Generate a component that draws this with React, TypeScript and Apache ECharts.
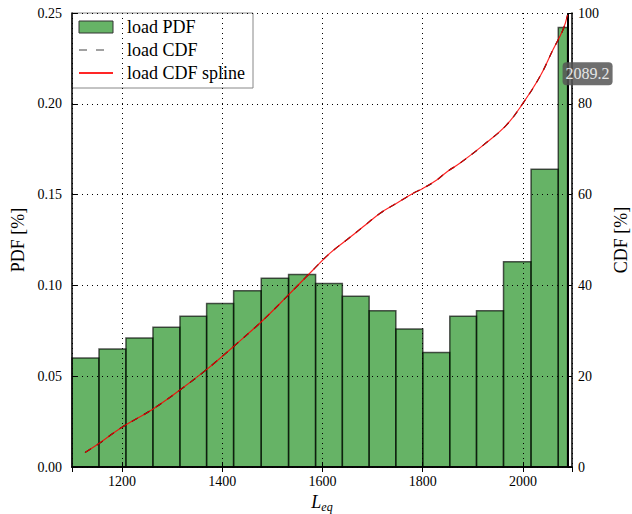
import React, { useEffect, useRef } from "react";
import * as echarts from "echarts";

const binEdges = [1100, 1153.9, 1207.7, 1261.6, 1315.5, 1368.7, 1422.6, 1477.7, 1532.3, 1586.2, 1639.6, 1693.1, 1746.4, 1800.2, 1854.1, 1907.4, 1961.3, 2016.3, 2070.6, 2089.2];
const pdfValues = [0.060, 0.065, 0.071, 0.077, 0.083, 0.090, 0.097, 0.104, 0.106, 0.101, 0.094, 0.086, 0.076, 0.063, 0.083, 0.086, 0.113, 0.164, 0.242];
const cdfX = [1126, 1153, 1199, 1262, 1316, 1369, 1399, 1422, 1478, 1532, 1581, 1615, 1648, 1681, 1715, 1748, 1781, 1801, 1828, 1848, 1874, 1921, 1967, 2000, 2034, 2060, 2080, 2089.2];
const cdfY = [3.2, 5.1, 8.7, 12.8, 17.0, 21.5, 24.3, 26.5, 32.0, 37.9, 43.4, 47.1, 50.0, 52.9, 55.9, 58.1, 60.3, 61.4, 63.2, 65.0, 66.9, 70.9, 75.3, 80.1, 86.0, 91.9, 96.3, 99.6];
const markerValue = 2089.2;
const markerCdf = 86.6;
const xMin = 1100;
const xMax = 2098;

const FONT = "Liberation Serif";

export default function App() {
  const ref = useRef<HTMLDivElement>(null);
  useEffect(() => {
    if (!ref.current) return;
    const chart = echarts.init(ref.current, null, { renderer: "svg" });
    const bins = pdfValues.map((v, i) => [binEdges[i], binEdges[i + 1], v]);
    const cdfData = cdfX.map((x, i) => [x, cdfY[i]]);
    const tickStyle = { show: true, inside: true, length: 5, lineStyle: { color: "#000" } };
    const option: any = {
      animation: false,
      backgroundColor: "#fff",
      textStyle: { fontFamily: FONT },
      grid: { left: 72, right: 60, top: 13, bottom: 47, containLabel: false, outerBoundsMode: "none" },
      legend: {
        left: 72,
        top: 13,
        orient: "vertical",
        padding: [5, 8, 6, 6],
        itemWidth: 34,
        itemHeight: 12,
        itemGap: 5,
        backgroundColor: "rgba(255,255,255,0.85)",
        borderColor: "#888",
        borderWidth: 1,
        borderRadius: 0,
        textStyle: { fontFamily: FONT, fontSize: 18, color: "#000", lineHeight: 18, padding: [0, 0, 0, 9] },
        data: [
          { name: "load PDF", icon: "rect", itemStyle: { color: "rgba(0,128,0,0.6)", borderColor: "#333", borderWidth: 1 } },
          { name: "load CDF", itemStyle: { opacity: 0 }, lineStyle: { color: "#444", type: [8, 9], width: 1.2 } },
          { name: "load CDF spline", itemStyle: { opacity: 0 } },
        ],
      },
      xAxis: [
        {
          type: "value",
          min: xMin,
          max: xMax,
          z: 5,
          name: "{a|L}{b|eq}",
          nameLocation: "middle",
          nameGap: 24,
          nameTextStyle: {
            rich: {
              a: { fontFamily: FONT, fontStyle: "italic", fontSize: 18, color: "#000", verticalAlign: "top", lineHeight: 20 },
              b: { fontFamily: FONT, fontStyle: "italic", fontSize: 12, color: "#000", verticalAlign: "bottom", lineHeight: 20, padding: [8, 0, 0, 0] },
            },
          },
          axisLine: { show: true, lineStyle: { color: "#000", width: 1.5 } },
          axisTick: tickStyle,
          axisLabel: { fontFamily: FONT, fontSize: 14, color: "#000", margin: 7, showMinLabel: false, showMaxLabel: false, formatter: (v: number) => String(v) },
          splitLine: { show: true, lineStyle: { color: "#000", type: [1, 4], width: 1 } },
        },
        {
          type: "value",
          position: "top",
          min: xMin,
          max: xMax,
          z: 5,
          axisLine: { show: true, lineStyle: { color: "#000", width: 1.5 } },
          axisTick: tickStyle,
          axisLabel: { show: false },
          splitLine: { show: false },
        },
      ],
      yAxis: [
        {
          type: "value",
          min: 0,
          max: 0.25,
          interval: 0.05,
          z: 5,
          name: "PDF [%]",
          nameLocation: "middle",
          nameGap: 42,
          nameTextStyle: { fontFamily: FONT, fontSize: 18, color: "#000" },
          axisLine: { show: true, lineStyle: { color: "#000", width: 1.5 } },
          axisTick: tickStyle,
          axisLabel: { fontFamily: FONT, fontSize: 14, color: "#000", margin: 10, formatter: (v: number) => v.toFixed(2) },
          splitLine: { show: true, lineStyle: { color: "#000", type: [1, 4], width: 1 } },
        },
        {
          type: "value",
          min: 0,
          max: 100,
          interval: 20,
          z: 5,
          position: "right",
          name: "CDF [%]",
          nameLocation: "middle",
          nameGap: 40,
          nameRotate: 90,
          nameTextStyle: { fontFamily: FONT, fontSize: 18, color: "#000" },
          axisLine: { show: true, lineStyle: { color: "#000", width: 1.5 } },
          axisTick: tickStyle,
          axisLabel: { fontFamily: FONT, fontSize: 14, color: "#000", margin: 6 },
          splitLine: { show: false },
        },
      ],
      series: [
        {
          name: "load PDF",
          type: "custom",
          xAxisIndex: 0,
          yAxisIndex: 0,
          z: 2,
          encode: { x: [0, 1], y: 2 },
          itemStyle: { color: "rgba(0,128,0,0.6)" },
          data: bins,
          renderItem: (params: any, api: any) => {
            const s = api.coord([api.value(0), api.value(2)]);
            const e = api.coord([api.value(1), 0]);
            return {
              type: "rect",
              shape: { x: s[0], y: s[1], width: e[0] - s[0], height: e[1] - s[1] },
              style: { fill: "rgba(0,128,0,0.6)", stroke: "rgba(0,0,0,0.65)", lineWidth: 1.5 },
            };
          },
        },
        {
          name: "load CDF",
          type: "line",
          xAxisIndex: 0,
          yAxisIndex: 1,
          z: 6,
          symbol: "none",
          smooth: 0.4,
          lineStyle: { color: "#000", width: 1.2, type: [7, 7] },
          itemStyle: { color: "#000" },
          data: cdfData,
          markLine: {
            silent: true,
            symbol: "none",
            label: { show: false },
            lineStyle: { color: "#000", width: 2, type: "solid" },
            data: [{ xAxis: markerValue }],
          },
        },
        {
          name: "load CDF spline",
          type: "line",
          xAxisIndex: 0,
          yAxisIndex: 1,
          z: 7,
          symbol: "none",
          smooth: 0.4,
          lineStyle: { color: "rgba(255,0,0,0.85)", width: 1.2 },
          itemStyle: { color: "rgba(255,0,0,0.85)" },
          data: cdfData,
          markPoint: {
            symbol: "circle",
            symbolSize: 0,
            data: [{ coord: [markerValue, markerCdf] }],
            label: {
              show: true,
              position: "inside",
              offset: [20, 0],
              formatter: String(markerValue),
              backgroundColor: "rgba(85,85,85,0.85)",
              borderRadius: 4,
              padding: [4, 3, 3, 3],
              color: "#e6e6e6",
              fontFamily: FONT,
              fontSize: 16,
            },
          },
        },
      ],
    };
    chart.setOption(option);
    return () => chart.dispose();
  }, []);
  return <div ref={ref} style={{ position: "fixed", left: 0, top: 0, width: 632, height: 514 }} />;
}
